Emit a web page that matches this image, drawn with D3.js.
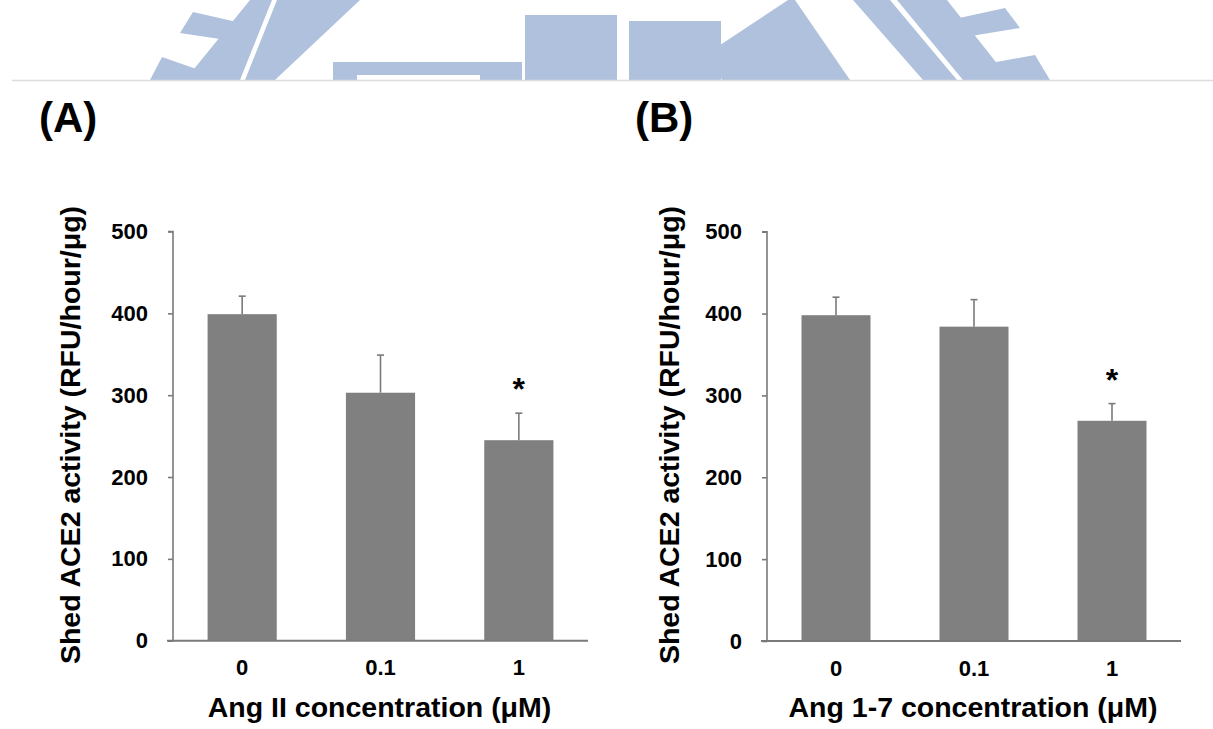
<!DOCTYPE html>
<html>
<head>
<meta charset="utf-8">
<script src="https://cdn.jsdelivr.net/npm/d3@7"></script>
<style>
  html, body { margin: 0; padding: 0; background: #fff; }
  svg { display: block; }
  text { font-family: "Liberation Sans", Arial, sans-serif; font-weight: bold; fill: #000; }
</style>
</head>
<body>
<svg id="chart" width="1213" height="729"></svg>
<script>
// ---- data ----
const categories = ["0", "0.1", "1"];
const valuesA = [399, 303, 245];
const errorsA = [22, 46, 33];
const signifA = [false, false, true];
const valuesB = [398, 384, 269];
const errorsB = [22, 33, 21];
const signifB = [false, false, true];
const yTicks = [0, 100, 200, 300, 400, 500];
const yTitle = "Shed ACE2 activity (RFU/hour/μg)";
const xTitleA = "Ang II concentration (μM)";
const xTitleB = "Ang 1-7 concentration (μM)";
const panelLabels = ["(A)", "(B)"];

// watermark shapes (background logo fragments)
const watermarkPolys = [
  [[185,80],[240,80],[272,0],[250,0]],
  [[150,80],[162,57],[205,72],[200,80]],
  [[180,33],[193,12],[250,25],[240,42]],
  [[245,80],[275,80],[360,0],[277,0]],
  [[722,80],[708,53],[788,0],[795,0],[850,80]],
  [[853,0],[890,0],[957,80],[923,80]],
  [[897,0],[947,0],[1010,80],[963,80]],
  [[950,20],[1005,8],[1020,28],[965,37]],
  [[980,65],[1035,55],[1050,80],[990,80]]
];
const watermarkRects = [
  [333,62,189,18],
  [525,15,92,65],
  [629,21,92,59]
];

const svg = d3.select("#chart");

// watermark
const wm = svg.append("g").attr("fill", "#b0c1dd");
wm.selectAll("polygon").data(watermarkPolys).join("polygon")
  .attr("points", d => d.map(p => p.join(",")).join(" "));
wm.selectAll("rect").data(watermarkRects).join("rect")
  .attr("x", d => d[0]).attr("y", d => d[1]).attr("width", d => d[2]).attr("height", d => d[3]);
svg.append("rect").attr("x", 357).attr("y", 75).attr("width", 123).attr("height", 5).attr("fill", "#fff");
svg.append("line").attr("x1", 12).attr("x2", 1213).attr("y1", 80.5).attr("y2", 80.5)
  .attr("stroke", "#dcdcdc").attr("stroke-width", 1.5);

function panel(opts) {
  const { x0, x1, yTop, yBot, values, errors, signif, xTitle, label, labelX, titleX } = opts;
  const g = svg.append("g");
  const x = d3.scaleBand().domain(categories).range([x0, x1]).paddingInner(0.5).paddingOuter(0.25);
  const y = d3.scaleLinear().domain([0, 500]).range([yBot, yTop]);

  const axisColor = "#7a7a7a";

  // bars
  g.selectAll("rect.bar").data(values).join("rect").attr("class", "bar")
    .attr("x", (d, i) => x(categories[i]))
    .attr("width", x.bandwidth())
    .attr("y", d => y(d))
    .attr("height", d => y(0) - y(d))
    .attr("fill", "#808080");

  // error bars (upper only)
  const eg = g.append("g").attr("stroke", "#7a7a7a").attr("stroke-width", 1.6);
  values.forEach((v, i) => {
    const cx = x(categories[i]) + x.bandwidth() / 2;
    eg.append("line").attr("x1", cx).attr("x2", cx).attr("y1", y(v)).attr("y2", y(v + errors[i]));
    eg.append("line").attr("x1", cx - 3.5).attr("x2", cx + 3.5).attr("y1", y(v + errors[i])).attr("y2", y(v + errors[i]));
    if (signif[i]) {
      g.append("text").attr("x", cx).attr("y", y(v + errors[i]) - 13)
        .attr("text-anchor", "middle").attr("font-size", 32).text("*");
    }
  });

  // y axis
  const yAxis = d3.axisLeft(y).tickValues(yTicks).tickSize(5).tickPadding(20).tickFormat(d3.format("d"));
  const ya = g.append("g").attr("transform", `translate(${x0},0)`).call(yAxis);
  ya.select(".domain").attr("stroke", axisColor).attr("stroke-width", 1.6).attr("d", `M-5,${yTop}H0V${yBot}`);
  ya.selectAll(".tick line").attr("stroke", axisColor).attr("stroke-width", 1.6);
  ya.selectAll(".tick text").attr("font-size", 22).attr("font-family", "Liberation Sans, Arial, sans-serif")
    .attr("font-weight", "bold").attr("fill", "#000");

  // x axis
  const xAxis = d3.axisBottom(x).tickSize(0).tickPadding(19);
  const xa = g.append("g").attr("transform", `translate(0,${yBot})`).call(xAxis);
  xa.select(".domain").attr("stroke", axisColor).attr("stroke-width", 2).attr("d", `M${x0 - 6},0H${x1}`);
  xa.selectAll(".tick text").attr("font-size", 22).attr("font-family", "Liberation Sans, Arial, sans-serif")
    .attr("font-weight", "bold").attr("fill", "#000").attr("dy", "0.71em");

  // titles
  g.append("text").attr("x", (x0 + x1) / 2 - 1).attr("y", 717).attr("text-anchor", "middle")
    .attr("font-size", 28.5).text(xTitle);
  g.append("text").attr("transform", `translate(${titleX},435) rotate(-90)`).attr("text-anchor", "middle")
    .attr("font-size", 28.5).text(yTitle);
  g.append("text").attr("x", labelX).attr("y", 132).attr("font-size", 42).text(label);
}

panel({ x0: 173, x1: 588, yTop: 231.5, yBot: 640.7, values: valuesA, errors: errorsA, signif: signifA,
        xTitle: xTitleA, label: panelLabels[0], labelX: 39, titleX: 80 });
panel({ x0: 767, x1: 1181, yTop: 231.7, yBot: 641, values: valuesB, errors: errorsB, signif: signifB,
        xTitle: xTitleB, label: panelLabels[1], labelX: 635, titleX: 679 });
</script>
</body>
</html>
